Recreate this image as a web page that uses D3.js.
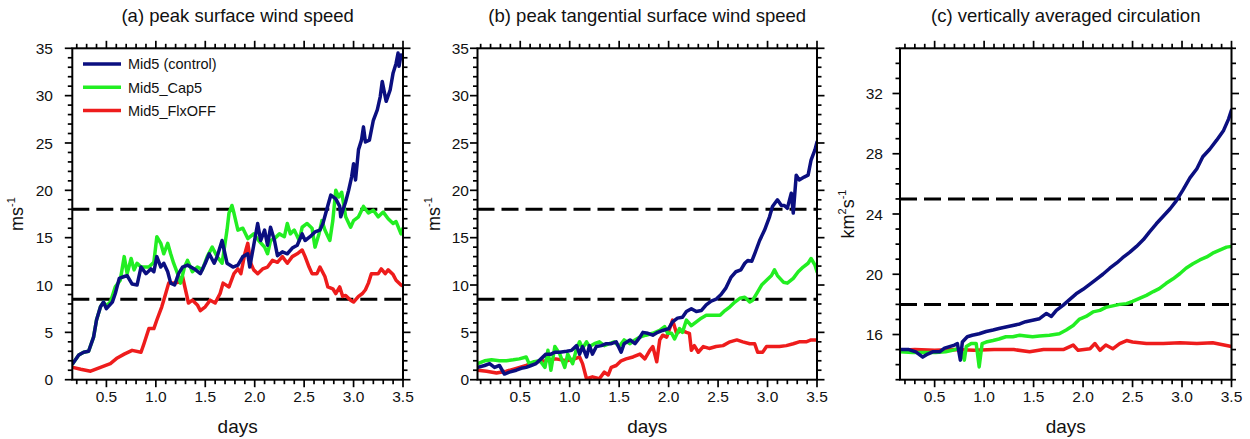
<!DOCTYPE html>
<html><head><meta charset="utf-8">
<script src="https://cdn.jsdelivr.net/npm/d3@7"></script>
<style>
html,body{margin:0;padding:0;background:#fff;}
svg{display:block;font-family:"Liberation Sans",Arial,Helvetica,sans-serif;}
</style></head>
<body><svg id="chart" width="1250" height="439"></svg>
<script>
// ---------- data (day, value) ----------
const seriesNames = ["Mid5 (control)", "Mid5_Cap5", "Mid5_FlxOFF"];
const panelTitles = ["(a) peak surface wind speed", "(b) peak tangential surface wind speed", "(c) vertically averaged circulation"];
const xTickLabels = ["0.5","1.0","1.5","2.0","2.5","3.0","3.5"];
const yTicksAB = [0,5,10,15,20,25,30,35];
const yTicksC = [16,20,24,28,32];
const thresholdsA = [18, 8.5];
const thresholdsB = [18, 8.5];
const thresholdsC = [25, 18];

const aControl = [[0.16,1.7],[0.22,2.6],[0.27,2.9],[0.32,3.0],[0.37,4.5],[0.40,6.3],[0.44,7.7],[0.47,8.2],[0.50,7.5],[0.56,8.2],[0.59,9.1],[0.63,10.7],[0.68,10.9],[0.71,11.0],[0.76,10.1],[0.81,10.0],[0.85,11.9],[0.90,11.2],[0.95,11.7],[0.98,11.4],[1.01,13.0],[1.05,11.9],[1.08,12.3],[1.12,11.4],[1.15,10.2],[1.19,10.0],[1.23,11.2],[1.27,11.9],[1.32,12.1],[1.39,11.7],[1.45,11.2],[1.50,12.3],[1.54,13.3],[1.59,12.3],[1.62,13.0],[1.67,14.7],[1.72,12.3],[1.78,11.9],[1.83,12.1],[1.88,13.0],[1.93,13.3],[1.95,11.9],[1.99,14.2],[2.03,16.5],[2.06,14.7],[2.10,15.8],[2.13,14.2],[2.16,16.1],[2.20,14.7],[2.23,13.1],[2.28,13.5],[2.33,13.3],[2.38,13.9],[2.43,14.2],[2.48,15.4],[2.51,14.7],[2.56,15.1],[2.61,15.6],[2.66,15.8],[2.69,16.5],[2.74,18.4],[2.77,19.5],[2.82,19.1],[2.86,18.3],[2.87,17.2],[2.92,18.8],[2.95,20.0],[2.98,21.4],[3.00,22.8],[3.02,21.1],[3.05,24.3],[3.08,25.3],[3.10,26.7],[3.12,25.1],[3.16,25.3],[3.20,27.4],[3.24,28.5],[3.27,29.9],[3.29,31.5],[3.32,29.9],[3.33,29.4],[3.37,30.6],[3.40,32.4],[3.43,33.4],[3.45,34.5],[3.46,33.1],[3.48,34.3],[3.50,34.0]];
const aCap5 = [[0.16,1.7],[0.22,2.6],[0.27,2.9],[0.32,3.0],[0.37,4.5],[0.40,6.3],[0.44,7.7],[0.47,8.2],[0.50,7.8],[0.54,8.2],[0.59,9.8],[0.64,10.5],[0.68,13.0],[0.71,11.2],[0.75,12.8],[0.78,11.6],[0.81,12.3],[0.85,11.9],[0.88,11.9],[0.93,11.9],[0.98,12.4],[1.01,15.1],[1.05,14.4],[1.08,13.3],[1.12,14.4],[1.15,13.3],[1.18,12.3],[1.22,11.2],[1.25,10.2],[1.29,11.9],[1.32,12.6],[1.37,11.4],[1.42,11.9],[1.47,11.6],[1.52,13.0],[1.57,14.0],[1.62,13.0],[1.67,12.3],[1.72,15.8],[1.74,17.6],[1.77,18.4],[1.79,17.6],[1.83,15.8],[1.88,16.0],[1.93,14.9],[1.99,15.4],[2.04,14.7],[2.10,14.0],[2.13,13.3],[2.16,14.7],[2.20,14.9],[2.25,15.4],[2.30,15.1],[2.33,16.5],[2.36,15.4],[2.40,15.8],[2.45,14.7],[2.48,16.1],[2.53,16.5],[2.58,16.0],[2.61,14.0],[2.65,15.4],[2.68,16.8],[2.71,15.8],[2.76,14.7],[2.79,16.8],[2.82,20.0],[2.85,19.3],[2.88,19.8],[2.92,17.2],[2.97,16.1],[3.00,16.8],[3.05,17.2],[3.10,18.3],[3.15,17.6],[3.20,17.9],[3.25,17.2],[3.30,17.7],[3.35,17.0],[3.40,16.5],[3.43,16.7],[3.48,15.4],[3.50,16.0]];
const aFlxOFF = [[0.16,1.3],[0.24,1.1],[0.34,0.9],[0.44,1.3],[0.54,1.7],[0.61,2.3],[0.68,2.7],[0.76,3.1],[0.85,2.9],[0.88,3.8],[0.93,5.4],[0.98,5.4],[1.01,6.3],[1.06,7.7],[1.10,9.1],[1.13,10.2],[1.18,10.2],[1.23,10.3],[1.27,10.9],[1.30,9.5],[1.33,8.1],[1.37,8.4],[1.42,7.9],[1.45,7.3],[1.50,7.7],[1.55,8.4],[1.60,8.1],[1.65,9.1],[1.68,10.2],[1.74,9.8],[1.79,11.2],[1.83,11.7],[1.86,11.2],[1.90,13.3],[1.93,14.4],[1.96,12.3],[1.99,11.6],[2.03,11.2],[2.08,11.7],[2.13,11.9],[2.18,12.6],[2.23,12.4],[2.28,13.0],[2.33,12.3],[2.38,13.0],[2.43,13.3],[2.48,13.7],[2.51,13.0],[2.55,11.9],[2.58,11.2],[2.63,11.2],[2.66,11.9],[2.71,10.9],[2.74,9.8],[2.79,9.6],[2.82,9.1],[2.86,9.8],[2.89,8.8],[2.92,8.9],[2.97,8.4],[3.00,8.2],[3.05,8.8],[3.09,9.1],[3.12,9.5],[3.15,10.2],[3.18,11.2],[3.25,11.2],[3.28,11.7],[3.32,11.2],[3.35,11.6],[3.40,11.1],[3.43,10.5],[3.48,10.0],[3.50,9.9]];

const bControl = [[0.07,1.3],[0.14,1.5],[0.19,1.7],[0.24,1.3],[0.29,1.5],[0.34,0.6],[0.39,0.8],[0.46,1.0],[0.51,1.2],[0.56,1.3],[0.61,1.5],[0.66,1.7],[0.71,2.2],[0.76,2.7],[0.81,2.7],[0.85,2.9],[0.90,2.9],[0.97,3.0],[1.02,3.1],[1.07,3.6],[1.10,2.7],[1.13,3.5],[1.17,2.4],[1.20,3.6],[1.23,2.7],[1.27,3.5],[1.32,3.6],[1.37,3.8],[1.42,3.8],[1.47,4.0],[1.52,2.9],[1.55,3.8],[1.61,4.2],[1.66,3.8],[1.71,4.5],[1.74,5.0],[1.79,4.9],[1.84,4.7],[1.89,5.0],[1.94,5.2],[2.00,5.4],[2.04,6.1],[2.09,6.5],[2.14,6.6],[2.18,7.2],[2.23,7.5],[2.28,7.2],[2.33,7.3],[2.38,7.9],[2.43,8.3],[2.48,8.5],[2.53,9.0],[2.58,9.7],[2.63,10.8],[2.68,11.4],[2.73,11.6],[2.77,12.3],[2.80,12.6],[2.84,12.5],[2.87,13.3],[2.92,14.7],[2.97,15.8],[3.02,17.2],[3.05,18.3],[3.10,19.0],[3.14,18.4],[3.17,18.4],[3.20,18.1],[3.24,19.7],[3.26,17.6],[3.29,21.6],[3.32,21.1],[3.37,21.4],[3.41,21.6],[3.44,23.2],[3.48,24.3],[3.50,25.1]];
const bCap5 = [[0.07,1.7],[0.14,2.0],[0.21,2.1],[0.29,2.0],[0.36,2.0],[0.43,2.1],[0.49,2.2],[0.56,2.4],[0.59,1.7],[0.64,1.9],[0.70,2.0],[0.75,1.3],[0.78,3.1],[0.81,1.0],[0.85,3.5],[0.90,2.7],[0.95,1.3],[0.98,2.7],[1.03,1.7],[1.07,3.3],[1.10,4.0],[1.13,3.3],[1.17,4.0],[1.20,3.5],[1.25,3.8],[1.30,4.0],[1.35,3.6],[1.40,3.8],[1.45,4.0],[1.50,3.5],[1.55,4.2],[1.61,3.8],[1.66,4.2],[1.71,4.5],[1.77,4.7],[1.84,4.9],[1.91,5.2],[1.96,5.6],[1.99,4.9],[2.03,4.9],[2.06,4.3],[2.11,5.4],[2.14,5.0],[2.18,6.3],[2.23,5.7],[2.28,6.1],[2.33,6.5],[2.38,6.8],[2.44,6.8],[2.52,6.8],[2.57,7.3],[2.62,7.7],[2.67,8.2],[2.72,8.6],[2.77,8.7],[2.82,8.2],[2.85,8.4],[2.89,9.1],[2.94,10.0],[2.99,10.5],[3.04,11.0],[3.07,11.6],[3.10,11.0],[3.16,10.3],[3.20,10.2],[3.26,10.7],[3.31,11.4],[3.36,11.9],[3.41,12.3],[3.44,12.8],[3.48,12.1],[3.50,11.4]];
const bFlxOFF = [[0.07,1.0],[0.16,0.9],[0.26,0.7],[0.36,0.9],[0.46,1.2],[0.56,1.5],[0.66,1.9],[0.76,2.0],[0.86,2.2],[0.97,2.0],[1.05,2.2],[1.10,2.4],[1.13,1.7],[1.17,0.1],[1.23,0.3],[1.30,0.1],[1.35,0.8],[1.39,0.5],[1.42,1.3],[1.47,1.5],[1.52,2.0],[1.57,2.2],[1.64,2.4],[1.71,2.7],[1.76,2.2],[1.81,3.1],[1.84,3.5],[1.88,1.9],[1.91,4.2],[1.94,4.7],[1.98,4.5],[2.01,5.4],[2.04,6.3],[2.08,4.9],[2.13,5.2],[2.18,5.0],[2.21,4.9],[2.23,3.1],[2.26,3.6],[2.30,2.9],[2.35,3.5],[2.41,3.3],[2.48,3.5],[2.55,3.6],[2.62,4.0],[2.69,4.2],[2.75,4.0],[2.82,3.8],[2.87,3.8],[2.90,2.9],[2.95,2.9],[2.99,3.5],[3.05,3.5],[3.12,3.5],[3.19,3.6],[3.26,3.8],[3.32,4.0],[3.39,4.0],[3.44,4.2],[3.50,4.2]];

const cControl = [[0.15,15.0],[0.24,15.0],[0.31,14.85],[0.38,14.5],[0.43,14.7],[0.48,14.85],[0.55,14.85],[0.60,15.1],[0.65,15.2],[0.70,15.3],[0.73,15.4],[0.76,14.3],[0.78,15.5],[0.83,15.85],[0.88,15.95],[0.95,16.05],[1.02,16.2],[1.09,16.3],[1.15,16.4],[1.22,16.5],[1.29,16.6],[1.36,16.7],[1.42,16.85],[1.49,16.95],[1.56,17.05],[1.63,17.4],[1.68,17.2],[1.73,17.6],[1.80,17.95],[1.86,18.3],[1.93,18.7],[2.00,19.0],[2.07,19.35],[2.13,19.65],[2.20,20.0],[2.27,20.4],[2.34,20.75],[2.40,21.1],[2.47,21.45],[2.54,21.85],[2.61,22.3],[2.67,22.8],[2.74,23.35],[2.81,23.85],[2.88,24.35],[2.94,24.85],[3.01,25.6],[3.08,26.4],[3.15,27.0],[3.21,27.8],[3.28,28.3],[3.35,28.9],[3.42,29.55],[3.47,30.3],[3.50,30.9]];
const cCap5 = [[0.15,14.85],[0.28,14.8],[0.41,14.8],[0.51,14.8],[0.61,14.85],[0.68,14.95],[0.73,15.05],[0.77,14.95],[0.80,14.3],[0.82,15.2],[0.87,15.4],[0.92,15.4],[0.95,13.85],[0.98,15.4],[1.02,15.5],[1.09,15.6],[1.15,15.7],[1.22,15.85],[1.29,15.85],[1.36,15.95],[1.42,15.9],[1.49,15.85],[1.56,15.9],[1.66,15.95],[1.76,16.05],[1.83,16.3],[1.90,16.6],[1.96,17.0],[2.03,17.2],[2.10,17.5],[2.17,17.6],[2.23,17.8],[2.30,17.9],[2.37,18.0],[2.44,18.05],[2.50,18.2],[2.57,18.4],[2.64,18.6],[2.71,18.85],[2.77,19.05],[2.84,19.4],[2.91,19.7],[2.98,20.05],[3.04,20.4],[3.11,20.7],[3.18,20.95],[3.25,21.15],[3.31,21.4],[3.38,21.6],[3.45,21.8],[3.50,21.85]];
const cFlxOFF = [[0.15,14.95],[0.30,15.0],[0.50,14.95],[0.70,15.0],[0.90,14.95],[1.10,15.0],[1.30,15.0],[1.46,14.85],[1.60,15.0],[1.80,15.0],[1.90,15.3],[1.95,14.95],[2.07,15.05],[2.12,15.4],[2.17,14.95],[2.23,15.3],[2.30,15.05],[2.37,15.4],[2.44,15.6],[2.50,15.5],[2.64,15.4],[2.81,15.4],[2.98,15.45],[3.15,15.4],[3.31,15.45],[3.50,15.2]];

// ---------- styles ----------
const colors = ["#0b0f80", "#22ee22", "#ee1c1c"];
const drawOrder = [2, 1, 0];

const panels = [
  {left:72.3, right:403, xMin:0.155, yDom:[0,35], yMajor:yTicksAB, yLabelEdge:53, title:panelTitles[0],
   ylab:"a", ylabX:23, series:[aControl,aCap5,aFlxOFF], thr:thresholdsA, legend:true},
  {left:477.5, right:817, xMin:0.068, yDom:[0,35], yMajor:yTicksAB, yLabelEdge:469, title:panelTitles[1],
   ylab:"a", ylabX:440, series:[bControl,bCap5,bFlxOFF], thr:thresholdsB, legend:false},
  {left:900, right:1231.5, xMin:0.15, yDom:[13,35], yMajor:yTicksC, yLabelEdge:883, title:panelTitles[2],
   ylab:"c", ylabX:854, series:[cControl,cCap5,cFlxOFF], thr:thresholdsC, legend:false}
];
const plotTop = 48.3, plotBottom = 379.7;
const svg = d3.select("#chart");

panels.forEach((p, pi) => {
  const x = d3.scaleLinear().domain([p.xMin, 3.5]).range([p.left, p.right]);
  const y = d3.scaleLinear().domain(p.yDom).range([plotBottom, plotTop]);
  const g = svg.append("g");
  const clipId = "clip" + pi;
  svg.append("clipPath").attr("id", clipId).append("rect")
    .attr("x", p.left).attr("y", plotTop).attr("width", p.right - p.left).attr("height", plotBottom - plotTop);

  const xMajor = xTickLabels.map(Number);
  const xMinor = d3.range(1, 36).map(v => v / 10).filter(v => v >= p.xMin && Math.abs(v*2 - Math.round(v*2)) > 1e-6);
  const yMinor = d3.range(p.yDom[0], p.yDom[1] + 1).filter(v => !p.yMajor.includes(v));

  const tickG = g.append("g").attr("stroke", "#000").attr("stroke-width", 1.7);
  [[plotBottom, 1], [plotTop, -1]].forEach(([yy, dir]) => {
    tickG.selectAll(null).data(xMajor).enter().append("line")
      .attr("x1", d => x(d)).attr("x2", d => x(d)).attr("y1", yy).attr("y2", yy + dir * 7.5);
    tickG.selectAll(null).data(xMinor).enter().append("line")
      .attr("x1", d => x(d)).attr("x2", d => x(d)).attr("y1", yy).attr("y2", yy + dir * 4.5);
  });
  [[p.left, -1], [p.right, 1]].forEach(([xx, dir]) => {
    tickG.selectAll(null).data(p.yMajor).enter().append("line")
      .attr("y1", d => y(d)).attr("y2", d => y(d)).attr("x1", xx).attr("x2", xx + dir * 7.5);
    tickG.selectAll(null).data(yMinor).enter().append("line")
      .attr("y1", d => y(d)).attr("y2", d => y(d)).attr("x1", xx).attr("x2", xx + dir * 4.5);
  });

  g.selectAll(null).data(xTickLabels).enter().append("text")
    .attr("x", d => x(+d)).attr("y", 402).attr("text-anchor", "middle")
    .attr("font-size", 15.5).attr("fill", "#111").text(d => d);
  g.selectAll(null).data(p.yMajor).enter().append("text")
    .attr("x", p.yLabelEdge).attr("y", d => y(d)).attr("dy", "0.36em").attr("text-anchor", "end")
    .attr("font-size", 15.5).attr("fill", "#111").text(d => d);

  const cx = (p.left + p.right) / 2;
  g.append("text").attr("x", cx).attr("y", 22).attr("text-anchor", "middle")
    .attr("font-size", 18.5).attr("fill", "#111").text(p.title);
  g.append("text").attr("x", cx).attr("y", 433).attr("text-anchor", "middle")
    .attr("font-size", 19).attr("fill", "#111").text("days");
  const yl = g.append("text").attr("transform", `translate(${p.ylabX},${(plotTop + plotBottom) / 2}) rotate(-90)`)
    .attr("text-anchor", "middle").attr("font-size", 18).attr("fill", "#111");
  if (p.ylab === "a") {
    yl.append("tspan").text("ms");
    yl.append("tspan").attr("font-size", 11).attr("dy", -8).text("-1");
  } else {
    yl.append("tspan").text("km");
    yl.append("tspan").attr("font-size", 11).attr("dy", -8).text("2");
    yl.append("tspan").attr("dy", 8).text("s");
    yl.append("tspan").attr("font-size", 11).attr("dy", -8).text("-1");
  }

  g.selectAll(null).data(p.thr).enter().append("line")
    .attr("x1", p.left).attr("x2", p.right).attr("y1", d => y(d)).attr("y2", d => y(d))
    .attr("stroke", "#000").attr("stroke-width", 3).attr("stroke-dasharray", "17,7");

  const line = d3.line().x(d => x(d[0])).y(d => y(d[1]));
  const sg = g.append("g").attr("clip-path", `url(#${clipId})`);
  drawOrder.forEach(si => {
    sg.append("path").datum(p.series[si]).attr("d", line).attr("fill", "none")
      .attr("stroke", colors[si]).attr("stroke-width", 3.5)
      .attr("stroke-linejoin", "round").attr("stroke-linecap", "round");
  });

  g.append("rect").attr("x", p.left).attr("y", plotTop).attr("width", p.right - p.left).attr("height", plotBottom - plotTop)
    .attr("fill", "none").attr("stroke", "#000").attr("stroke-width", 2);

  if (p.legend) {
    const lg = g.append("g");
    seriesNames.forEach((name, i) => {
      const yy = 64 + i * 23.3;
      lg.append("line").attr("x1", 83).attr("x2", 121).attr("y1", yy).attr("y2", yy)
        .attr("stroke", colors[i]).attr("stroke-width", 3.5);
      lg.append("text").attr("x", 128).attr("y", yy).attr("dy", "0.36em")
        .attr("font-size", 14.5).attr("fill", "#111").text(name);
    });
  }
});
</script></body></html>
